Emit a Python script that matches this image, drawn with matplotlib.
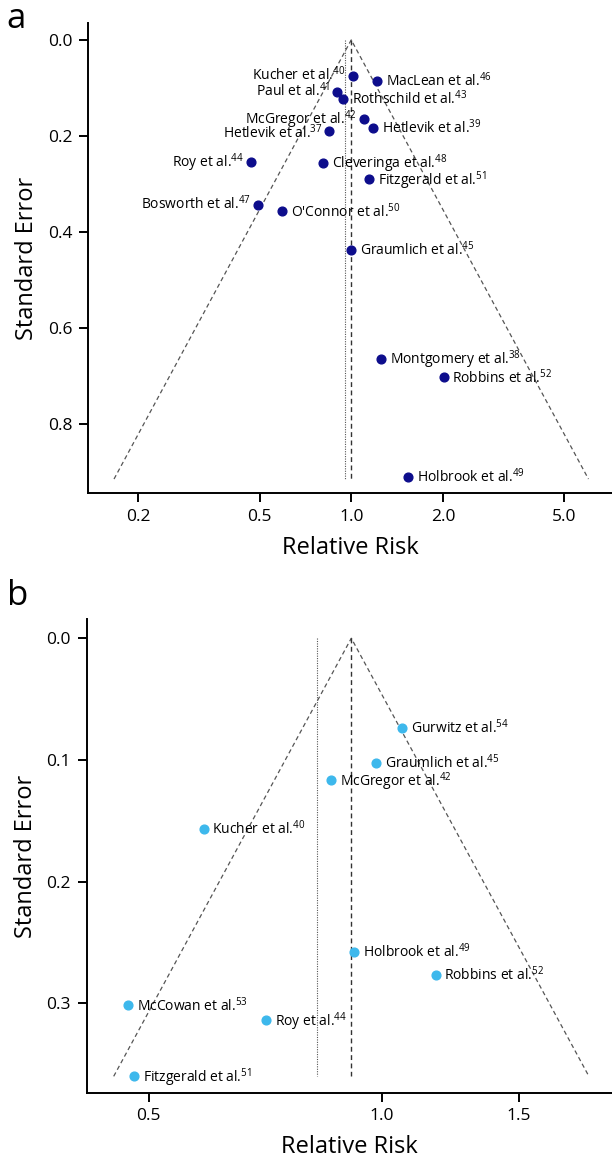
import numpy as np
import matplotlib
matplotlib.use("Agg")
import matplotlib.pyplot as plt
from matplotlib.ticker import NullLocator, FixedLocator, FixedFormatter

plt.rcParams['font.family'] = ['Open Sans', 'DejaVu Sans']
plt.rcParams['mathtext.fontset'] = 'custom'
plt.rcParams['mathtext.rm'] = 'Open Sans'
plt.rcParams['mathtext.it'] = 'Open Sans'

# panel a: all studies
names_a = ["Kucher et al.", "MacLean et al.", "Paul et al.", "Rothschild et al.",
           "McGregor et al.", "Hetlevik et al.", "Hetlevik et al.", "Roy et al.",
           "Cleveringa et al.", "Fitzgerald et al.", "Bosworth et al.", "O'Connor et al.",
           "Graumlich et al.", "Montgomery et al.", "Robbins et al.", "Holbrook et al."]
refs_a = [40, 46, 41, 43, 42, 39, 37, 44, 48, 51, 47, 50, 45, 38, 52, 49]
rr_a = [1.01, 1.215, 0.90, 0.942, 1.10, 1.18, 0.847, 0.468,
        0.81, 1.146, 0.493, 0.594, 1.0, 1.25, 2.01, 1.54]
se_a = [0.075, 0.085, 0.108, 0.123, 0.165, 0.183, 0.19, 0.254,
        0.256, 0.29, 0.345, 0.357, 0.438, 0.664, 0.703, 0.91]
pooled_a = 1.0      # dashed line / funnel centre
fixed_a = 0.953     # dotted line
semax_a = 0.915

# panel b: subset
names_b = ["Gurwitz et al.", "Graumlich et al.", "McGregor et al.", "Kucher et al.",
           "Holbrook et al.", "Robbins et al.", "McCowan et al.", "Roy et al.",
           "Fitzgerald et al."]
refs_b = [54, 45, 42, 40, 49, 52, 53, 44, 51]
rr_b = [1.061, 0.982, 0.859, 0.589, 0.92, 1.173, 0.471, 0.709, 0.479]
se_b = [0.0737, 0.1027, 0.1167, 0.1564, 0.258, 0.2767, 0.3016, 0.3139, 0.36]
pooled_b = 0.913
fixed_b = 0.824
semax_b = 0.36

# labels drawn on the left of their point in panel a (by index), small vertical nudges in pt
left_idx_a = {0, 2, 4, 6, 7, 10}
nudge_a = {0: 1.0, 2: 1.0, 6: -1.5, 10: 1.5, 9: -0.8}


def funnel(ax, centre, dotted, semax):
    xs = [centre * np.exp(-1.96 * semax), centre, centre * np.exp(1.96 * semax)]
    ys = [semax, 0, semax]
    ax.plot(xs, ys, ls=(0, (3.5, 2.5)), color='#555555', lw=0.9, zorder=1)
    ax.plot([centre, centre], [0, semax], ls=(0, (3.5, 2.5)), color='#333333', lw=1.0, zorder=1)
    ax.plot([dotted, dotted], [0, semax], ls=(0, (1, 1.2)), color='#555555', lw=0.8, zorder=1)


def style(ax, xlim, ylim, xt, yt):
    ax.set_xscale('log')
    ax.set_xlim(*xlim)
    ax.set_ylim(*ylim)
    ax.xaxis.set_major_locator(FixedLocator(xt))
    ax.xaxis.set_major_formatter(FixedFormatter(["%.1f" % v for v in xt]))
    ax.xaxis.set_minor_locator(NullLocator())
    ax.set_yticks(yt)
    ax.set_yticklabels(["%.1f" % v for v in yt])
    for s in ['top', 'right']:
        ax.spines[s].set_visible(False)
    for s in ['left', 'bottom']:
        ax.spines[s].set_linewidth(1.4)
    ax.tick_params(direction='out', length=6.2, width=1.4, labelsize=12.5, pad=5)
    ax.set_xlabel("Relative Risk", fontsize=17, labelpad=8)
    ax.set_ylabel("Standard Error", fontsize=17, labelpad=6)


fig = plt.figure(figsize=(6.12, 11.64), dpi=100)

ax = fig.add_axes([0.1435, 0.5765, 0.8565, 0.4038])
funnel(ax, pooled_a, fixed_a, semax_a)
ax.plot(rr_a, se_a, 'o', color='#0d0d8c', ms=6.3, zorder=3, clip_on=False)
for i, (n, r, x, y) in enumerate(zip(names_a, refs_a, rr_a, se_a)):
    lab = n + "$^{%d}$" % r
    dy = -3.8 + nudge_a.get(i, 0)
    if i in left_idx_a:
        ax.annotate(lab, (x, y), xytext=(-5, dy), textcoords='offset points',
                    ha='right', va='baseline', fontsize=10)
    else:
        ax.annotate(lab, (x, y), xytext=(6.3, dy), textcoords='offset points',
                    ha='left', va='baseline', fontsize=10)
style(ax, (0.1365, 7.18), (0.944, -0.0354), [0.2, 0.5, 1.0, 2.0, 5.0],
      [0.0, 0.2, 0.4, 0.6, 0.8])

ax2 = fig.add_axes([0.1415, 0.0613, 0.8585, 0.4067])
funnel(ax2, pooled_b, fixed_b, semax_b)
ax2.plot(rr_b, se_b, 'o', color='#3db8ec', ms=6.3, zorder=3, clip_on=False)
for n, r, x, y in zip(names_b, refs_b, rr_b, se_b):
    ax2.annotate(n + "$^{%d}$" % r, (x, y), xytext=(6.3, -3.8), textcoords='offset points',
                 ha='left', va='baseline', fontsize=10)
style(ax2, (0.416, 1.98), (0.3734, -0.0156), [0.5, 1.0, 1.5], [0.0, 0.1, 0.2, 0.3])

fig.text(6 / 612, 1 - 28 / 1164, "a", fontsize=25, va='baseline')
fig.text(7 / 612, 1 - 605 / 1164, "b", fontsize=25, va='baseline')

fig.savefig("out.png", dpi=100)
